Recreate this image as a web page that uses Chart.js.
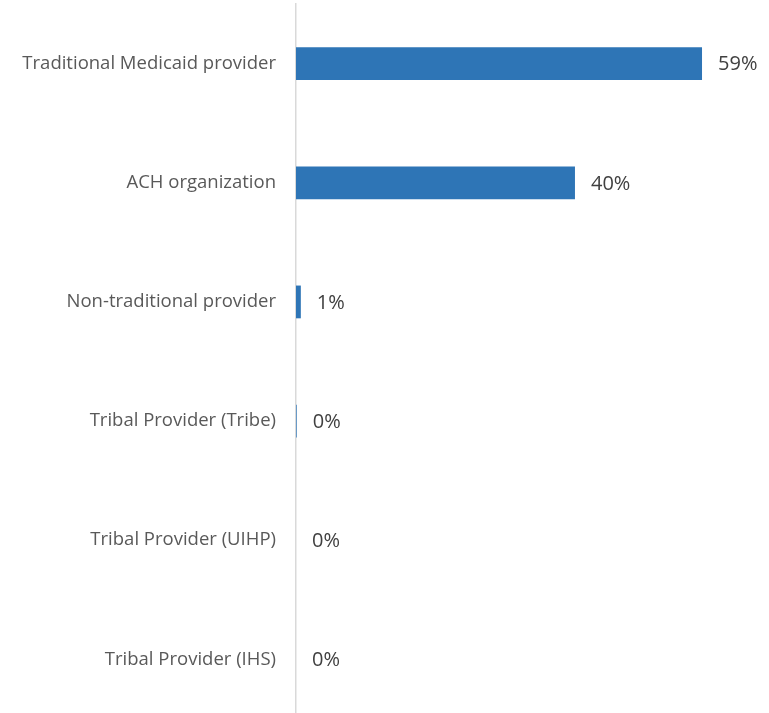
<!DOCTYPE html>
<html>
<head>
<meta charset="utf-8">
<script src="https://cdn.jsdelivr.net/npm/chart.js@4/dist/chart.umd.min.js"></script>
<style>
html,body{margin:0;padding:0;background:#fff;overflow:hidden;}
#wrap{width:769px;height:777px;margin-top:-27px;}
</style>
</head>
<body>
<div id="wrap"><canvas id="c" width="769" height="777"></canvas></div>
<script>
const categories = [
  "Traditional Medicaid provider",
  "ACH organization",
  "Non-traditional provider",
  "Tribal Provider (Tribe)",
  "Tribal Provider (UIHP)",
  "Tribal Provider (IHS)"
];
const shares = [58.8, 40.4, 0.7, 0.1, 0, 0];
const shareLabels = ["59%", "40%", "1%", "0%", "0%", "0%"];

const valueLabels = {
  id: 'valueLabels',
  afterDatasetsDraw(chart) {
    const ctx = chart.ctx;
    const meta = chart.getDatasetMeta(0);
    ctx.save();
    ctx.font = '20px "Open Sans", sans-serif';
    ctx.fillStyle = '#404040';
    ctx.textAlign = 'left';
    ctx.textBaseline = 'middle';
    meta.data.forEach((bar, i) => {
      ctx.fillText(shareLabels[i], bar.x + 16, bar.y + 1);
    });
    ctx.restore();
  }
};

new Chart(document.getElementById('c'), {
  type: 'bar',
  data: {
    labels: categories,
    datasets: [{
      data: shares,
      backgroundColor: '#2e75b6',
      borderWidth: 0,
      barPercentage: 0.55,
      categoryPercentage: 0.5
    }]
  },
  options: {
    indexAxis: 'y',
    responsive: false,
    animation: false,
    layout: { padding: 0 },
    plugins: { legend: { display: false }, tooltip: { enabled: false } },
    scales: {
      x: {
        min: 0, max: 68.5,
        display: false,
        grid: { display: false }
      },
      y: {
        afterFit(scale) { scale.width = 296; },
        grid: { display: false, drawTicks: false },
        border: { display: true, color: '#d9d9d9', width: 1.5 },
        ticks: {
          padding: 20,
          color: '#595959',
          font: { family: '"Open Sans", sans-serif', size: 18.5 }
        }
      }
    }
  },
  plugins: [valueLabels]
});
</script>
</body>
</html>
